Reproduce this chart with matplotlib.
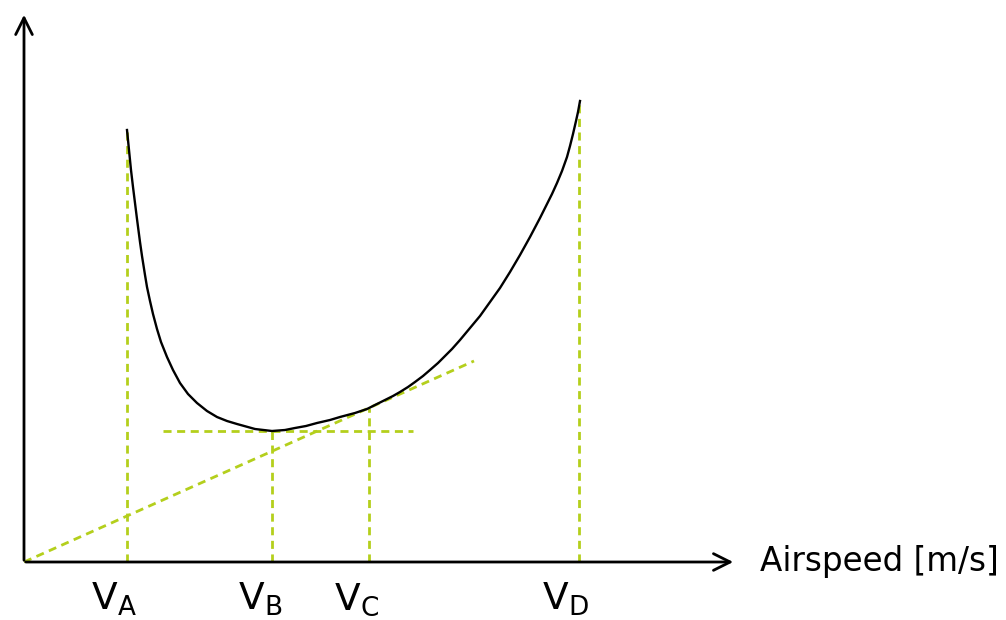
import numpy as np
import matplotlib.pyplot as plt

# power-required curve (arbitrary units, origin at the axis corner)
speed = np.array([103, 105, 107, 109, 111, 113, 116, 118, 121, 123, 126, 129, 133, 137,
                  143, 149, 156, 164, 173, 183, 193, 203, 213, 231, 248,
                  261, 271, 282, 293, 306, 316, 331, 343, 353, 361, 369, 376, 384, 391,
                  399, 406, 414, 421, 428, 436, 446, 456, 466, 476, 486, 496, 506, 516,
                  524, 528, 533, 538, 543, 546, 549, 552, 554, 556])
power = np.array([432, 412, 392, 375, 359, 343, 320, 306, 287, 275, 261, 248, 233, 220,
                  205, 192, 179, 168, 159, 151, 145, 141, 138, 133, 131,
                  132, 134, 136, 139, 142, 145, 149, 153, 158, 162, 166, 170, 175, 180,
                  186, 192, 199, 206, 213, 222, 234, 246, 260, 274, 290, 307, 325, 344,
                  360, 368, 379, 391, 405, 416, 428, 441, 450, 461])

# characteristic speeds
v_labels = ["A", "B", "C", "D"]
v_speeds = [103, 248, 345, 555]
v_power = [432, 131, 154, 462]

# tangent from origin and horizontal through minimum
tangent_x = [0, 450]
tangent_y = [0, 201]
hline_x = [139, 389]
hline_y = [131, 131]

green = "#b4cf1c"
dash = (0, (2.9, 2.0))

plt.rcParams["mathtext.fontset"] = "dejavusans"

fig = plt.figure(figsize=(10.06, 6.2), dpi=100)
ax = fig.add_axes([0, 0, 1, 1])
ax.set_xlim(-24, 982)
ax.set_ylim(-58, 562)
ax.axis("off")

# dashed guides
for vx, vy in zip(v_speeds, v_power):
    ax.plot([vx, vx], [0, vy], color=green, lw=2.0, ls=dash)
ax.plot(tangent_x, tangent_y, color=green, lw=2.0, ls=dash)
ax.plot(hline_x, hline_y, color=green, lw=2.0, ls=dash)

# curve
ax.plot(speed, power, color="black", lw=1.7, solid_joinstyle="round")

# axes arrows
ax.annotate("", xy=(0, 550), xytext=(0, -1),
            arrowprops=dict(arrowstyle="->,head_length=1.2,head_width=0.6", lw=2.0, color="black"))
ax.annotate("", xy=(712, 0), xytext=(-1, 0),
            arrowprops=dict(arrowstyle="->,head_length=1.2,head_width=0.6", lw=2.0, color="black"))

for lab, vx in zip(v_labels, v_speeds):
    ax.text(vx + 10, -48, "$\\mathrm{V_%s}$" % lab, fontsize=27, ha="right", va="baseline")

ax.text(736, 0, "Airspeed [m/s]", fontsize=23.5, ha="left", va="center")

fig.savefig("out.png", dpi=100)
